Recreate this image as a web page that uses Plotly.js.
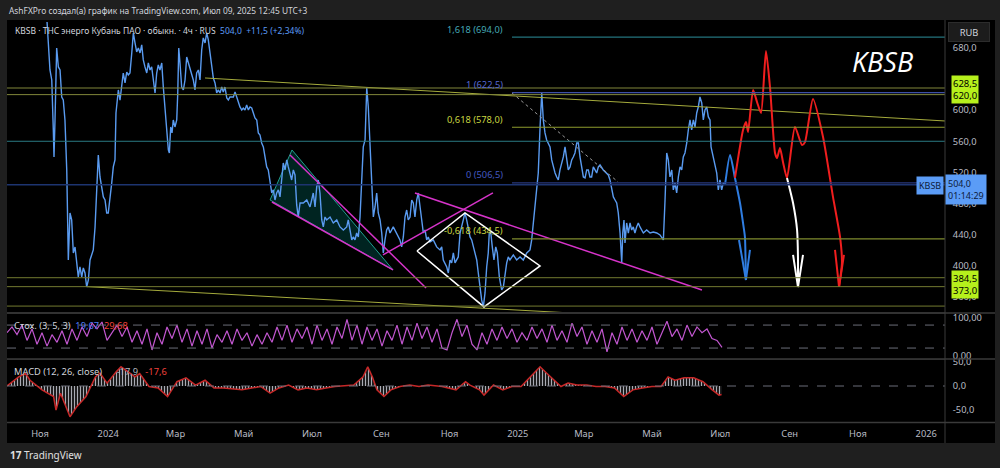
<!DOCTYPE html>
<html><head><meta charset="utf-8">
<script src="https://cdn.plot.ly/plotly-3.0.1.min.js"></script>
<style>html,body{margin:0;padding:0;background:#1f1f1f;}#chart{width:1000px;height:468px;}</style>
</head><body><div id="chart"></div>
<script>
// ---------- DATA (days since 2023-11-01, values in RUB) ----------
const priceDays = [-29.5,-8.9,4.5,6.3,8.9,10.5,11.9,12.5,13.4,14.9,16.4,17.9,19.4,20.8,22.3,23.9,25.3,26.8,28.3,29.8,31.3,32.8,34.2,35.7,37.3,38.7,40.2,41.7,43.2,44.7,47.6,49.2,50.7,52.1,53.6,56.6,58.1,59.6,61.0,62.6,64.1,65.5,67.0,67.9,69.1,70.0,71.5,73.0,74.4,76.0,77.5,78.9,80.4,82.0,83.4,84.9,86.4,87.9,89.4,90.9,92.3,93.8,95.4,96.8,98.3,99.8,101.3,102.8,104.3,105.7,107.2,108.8,110.2,111.7,113.2,114.7,115.6,116.8,118.0,119.1,120.6,122.2,123.1,124.0,125.1,126.6,128.1,129.6,131.1,132.5,134.1,137.0,138.5,140.0,141.5,143.0,144.5,145.9,147.5,149.0,150.4,151.9,153.5,154.9,156.4,157.9,159.3,160.9,162.4,163.8,165.3,166.9,168.3,169.8,172.8,174.3,175.8,177.2,178.7,180.3,181.7,183.2,184.7,186.2,187.7,189.2,190.6,192.1,193.7,195.1,196.6,198.1,199.6,201.1,202.6,204.0,205.6,207.1,208.5,210.0,211.5,213.0,214.5,216.0,217.4,219.0,220.5,221.9,223.4,224.9,226.4,227.9,229.4,230.8,232.4,235.3,238.4,241.3,242.8,244.2,245.8,247.3,248.7,250.2,251.8,253.2,254.7,256.2,259.2,262.1,265.2,268.1,271.1,274.1,275.5,277.0,278.6,280.0,281.5,283.0,284.5,286.0,287.5,288.9,290.5,292.0,293.4,294.9,296.4,297.9,299.4,300.9,302.3,303.9,305.4,306.8,308.3,309.8,311.3,312.8,315.7,318.8,321.7,323.2,324.7,326.2,327.7,329.1,330.7,332.2,333.6,335.1,336.7,338.1,339.6,341.1,342.6,344.1,345.6,347.0,348.5,351.5,354.5,357.5,359.0,360.4,363.5,364.9,366.4,367.9,369.4,370.9,372.4,373.8,375.4,378.3,379.8,381.3,382.8,384.3,385.8,387.2,388.8,390.3,391.7,393.2,394.7,396.2,397.7,399.2,400.6,401.5,402.8,404.2,405.7,407.3,408.7,410.5,412.6,414.1,415.6,417.1,418.5,420.0,423.0,426.0,429.0,431.9,435.0,437.9,439.4,440.9,442.4,443.9,445.3,446.9,448.4,449.8,451.3,452.8,455.8,457.3,458.7,460.3,461.8,463.2,464.7,467.7,469.2,470.7,472.1,473.7,475.2,476.6,478.1,479.7,481.1,482.6,484.1,485.6,487.1,488.6,490.0,491.5,493.0,494.5,496.0,497.5,499.0,500.5,503.4,506.5,507.9,509.4,510.9,512.4,513.9,515.4,516.8,518.4,519.9,520.8,521.9,522.8,524.3,525.8,527.3,528.8,530.2,531.7,533.2,534.7,536.2,539.2,542.2,545.2,548.1,551.2,554.1,557.1,558.6,560.1,561.5,563.0,564.6,566.0,567.5,569.0,570.5,572.0,573.5,574.9,576.4,578.0,579.4,580.9,582.4,583.9,585.4,586.9,588.3,589.8,591.4,592.8,594.3,595.8,597.3,598.8,599.7,601.7,603.2,604.8,606.2,607.7,609.2,610.7,612.2];
const priceValues = [765,755,729,713,651.7,638.8,574.5,539.8,587.4,680,655.6,651.7,617,613,587.4,523,407.3,467.8,458.8,416.3,424,398.3,385.5,398.3,385.5,397,390.6,372.6,381.6,407.3,420.2,449.8,493.5,542.4,514.1,488.4,484.5,467.8,467.8,484.5,506.4,527,536,596.4,617,626,613,629.8,647.8,635,649.1,645.3,647.8,673.6,699.3,686.4,674.9,680,673.6,683.9,664.6,655.6,647.8,660.7,651.7,655.6,635,622.1,647.8,658.1,651.7,660.7,629.8,600.3,574.5,548.8,545,578.4,570.7,587.4,578.4,587.4,622.1,680,660.7,629.8,626,638.8,668.4,660.7,655.6,638.8,626,647.8,651.7,638.8,677.4,692.9,686.4,699.3,690.3,673.6,651.7,641.4,635,622.1,626,622.1,629.8,623.4,629.8,615.7,613.1,617,617,623.4,617,609.3,604.1,600.3,602.8,600.3,606.7,600.3,604.1,602.8,596.4,590,587.4,570.7,568.1,557.8,552.7,539.8,527,523.1,506.4,493.5,497.4,484.5,493.5,497.4,488.4,514.1,532.1,523.1,536,527,519.2,510.2,523.1,516.7,478.1,462.6,480.6,480.6,484.5,475.5,484.5,493.5,475.5,501.2,510.2,493.5,458.8,449.8,462.6,458.8,462.6,454.9,458.8,449.8,445.9,449.8,458.8,445.9,433.1,436.9,433.1,442,436.9,462.6,514.1,552.7,561.7,628.6,604.1,557.8,523.1,462.6,475.5,493.5,467.8,458.8,442,416.3,433.1,445.9,449.8,442,449.8,442,433.1,424.1,436.9,462.6,471.6,458.8,462.6,484.5,480.6,462.6,484.5,493.5,475.5,454.9,442,445.9,433.1,436.9,430.5,433.1,424.1,420.2,424.1,407.3,398.3,390.6,407.3,403.5,416.3,403.5,407.3,411.2,442,458.8,467.8,458.8,449.8,436.9,433.1,424.1,416.3,407.3,390.6,372.6,355.9,346.9,364.9,398.3,416.3,442,443.3,424.1,407.3,424.1,416.3,385.5,368.7,372.6,390.6,403.5,411.2,407.3,413.8,407.3,411.2,407.3,416.3,420.2,433.1,454.9,480.6,497.4,519.2,578.4,622.1,587.4,570.7,561.7,552.7,536,527,519.2,514.1,510.2,523.1,539.8,552.7,536,523.1,527,536,539.8,545,557.8,557.8,539.8,527,514.1,512.8,523.1,523.1,514.1,514.1,527,523.1,519.2,527,529.5,523.1,519.2,516.7,510.2,501.2,488.4,484.5,480.6,467.8,442,403.5,442,458.8,429.2,454.9,442,454.9,445.9,449.8,442,449.8,454.9,449.8,442,445.9,442,443.3,442,439.5,433.1,484.5,544.9,536,514.1,523.1,497.4,506.4,493.5,514.1,527,523.1,539.8,545,557.8,574.5,587.4,574.5,587.4,578.4,596.4,604.1,617,609.3,587.4,600.3,604.1,591.3,587.4,552.7,539.8,527,519.2,497.4,510.2,497.4,506.4,504];

// Stochastic (sampled every stochStep days from stochStart)
const stochStart = -29.5, stochStep = 4.4685;
const stochValues = [60,75,55,80,40,70,30,60,25,55,35,65,30,70,40,75,50,85,70,88,40,60,80,50,75,35,65,30,70,15,60,30,75,45,80,35,70,25,65,30,70,20,55,35,65,30,70,40,60,25,55,30,60,35,75,40,80,35,70,45,75,30,80,40,70,30,75,45,95,40,80,30,75,40,70,25,65,40,80,30,75,40,85,45,75,35,70,20,15,60,95,50,80,30,15,60,30,70,40,75,45,70,35,60,40,75,45,70,35,80,40,65,35,85,50,75,30,65,35,70,10,60,30,75,40,70,35,65,40,75,30,60,90,50,70,40,80,50,75,60,70,45,40,22];

// MACD
const macdDays = [-29.5,-19.1,-12.9,-8.9,1.8,12.1,14.3,18.3,26.8,32.9,41.1,49.5,53.6,59.9,68.3,72.4,80.4,84.9,89.1,97.4,105.5,114.0,122.4,130.5,139.0,147.5,155.5,164.0,180.5,197.2,205.6,213.6,222.2,230.6,238.6,247.2,255.6,263.7,280.4,288.7,292.9,297.0,301.1,307.4,313.6,321.7,330.4,338.7,346.8,359.3,371.8,380.3,384.3,392.8,396.8,405.3,413.6,421.8,429.9,438.5,446.9,453.1,459.4,465.6,471.9,479.9,488.5,496.9,504.9,513.4,521.7,529.9,538.4,546.8,555.0,561.3,567.5,575.6,584.2,592.5,600.8,606.8,609.1];
const macdValues = [0,19,26,12,-8,-22,-50,-15,-64,-43,-22,19,27,6,30,40,27,19,26,-1,-4,-22,9,17,2,12,-4,-4,-8,-1,-15,-4,2,-8,-4,-8,-4,-1,2,19,40,19,-8,-22,-8,-1,2,-1,2,-1,-8,9,2,-8,-19,2,-8,-1,-1,19,40,26,12,-1,6,2,2,-1,-1,-4,-22,-8,-4,-1,-1,19,12,17,17,9,-8,-19,-17.6];

// Levels
const fibLevels = [694.0, 622.5, 578.0, 506.5, 434.5];
const fibLabels = ['1,618 (694,0)', '1 (622,5)', '0,618 (578,0)', '0 (506,5)', '-0,618 (434,5)'];
const fibStartDay = 421.8;
const horizLevels = [628.5, 620.0, 560.0, 384.5, 373.0, 348.0];
const lastPrice = 504.0;

// Drawings (day, price)
const wedgeDays = [205.6, 225.2, 315.5, 205.6], wedgeVals = [484.5, 548.8, 394.5, 484.5];
const wedgeUpDays = [223.4, 345.0], wedgeUpVals = [542.4, 371.3];
const wedgeLoDays = [207.3, 315.5], wedgeLoVals = [481.9, 394.5];
const diamondDays = [336.9, 379.8, 446.9, 396.8, 336.9], diamondVals = [418.9, 467.8, 399.6, 346.9, 418.9];
const magADays = [306.5, 404.8], magAVals = [413.8, 493.5];
const magBDays = [335.1, 591.6], magBVals = [493.5, 368.7];
const trendTopDays = [147.5, 808.8], trendTopVals = [641.4, 586.1];
const trendBotDays = [42.0, 473.7], trendBotVals = [373.0, 339.2];
const dotDays = [421.8, 516.6], dotVals = [622.1, 507.7];
const blueDays = [612.2, 616.7, 621.1, 625.6, 628.3, 630.0, 630.6, 630.9], blueVals = [503.8, 542.4, 512.8, 480.6, 454.9, 436.9, 403.5, 381.6];
const blueHeadDays = [624.7, 630.9, 634.5], blueHeadVals = [433.0, 381.6, 420.2];
const redDays = [621.1,628.3,631.0,632.8,637.3,640.8,644.4,648.8,652.4,656.9,658.7,661.3,664.0,667.6,674.7,681.0,683.7,690.8,699.8,708.7,715.0,716.7,714.1];
const redVals = [512.8,574.5,584.8,572.0,626.0,610.5,596.4,676.1,629.8,545.0,538.5,551.4,533.4,512.8,578.4,555.2,559.1,614.4,565.5,488.4,436.9,403.5,372.6];
const redHeadDays = [710.5, 714.1, 718.5], redHeadVals = [420.2, 372.6, 413.8];
const whiteDays = [667.6, 673.0, 676.6, 677.4, 677.4], whiteVals = [512.8, 480.6, 445.9, 411.2, 372.6];
const whiteHeadDays = [673.0, 677.4, 681.9], whiteHeadVals = [413.8, 372.6, 413.8];

const tickDates = ['2023-11-01','2024-01-01','2024-03-01','2024-05-01','2024-07-01','2024-09-01','2024-11-01','2025-01-01','2025-03-01','2025-05-01','2025-07-01','2025-09-01','2025-11-01','2026-01-01'];
const tickNames = ['Ноя','2024','Мар','Май','Июл','Сен','Ноя','2025','Мар','Май','Июл','Сен','Ноя','2026'];

// ---------- BUILD ----------
const ORIGIN = Date.UTC(2023, 10, 1), DAY = 86400000;
function dt(d){ return new Date(ORIGIN + d*DAY).toISOString().replace('T',' ').slice(0,19); }
const D = a => a.map(dt);
const FONT = 'Noto Sans, sans-serif';
const AX = '#b8bbc4';

function line(days, vals, color, width, extra){
  return Object.assign({x: D(days), y: vals, type:'scatter', mode:'lines', line:{color:color, width:width}, hoverinfo:'skip', showlegend:false}, extra||{});
}

const stochDays = stochValues.map((v,i)=>stochStart + i*stochStep);

const traces = [
  line(wedgeDays, wedgeVals, '#1f9e8e', 1, {fill:'toself', fillcolor:'rgba(0,128,118,0.28)'}),
  line(priceDays, priceValues, '#5a9bf0', 1.4),
  line(trendTopDays, trendTopVals, '#a5ab3c', 1),
  line(trendBotDays, trendBotVals, '#a5ab3c', 1),
  line(dotDays, dotVals, '#9a9a9a', 1, {line:{color:'#9a9a9a', width:1, dash:'dot'}}),
  line(wedgeUpDays, wedgeUpVals, '#d633c9', 1.5),
  line(wedgeLoDays, wedgeLoVals, '#d633c9', 1.5),
  line(magADays, magAVals, '#d633c9', 1.5),
  line(magBDays, magBVals, '#d633c9', 1.5),
  line(diamondDays, diamondVals, '#ffffff', 1.5),
  line(blueDays, blueVals, '#2f7de1', 2, {line:{color:'#2f7de1', width:2, shape:'spline', smoothing:0.6}}),
  line(blueHeadDays, blueHeadVals, '#2f7de1', 2),
  line(redDays, redVals, '#f01e1e', 2, {line:{color:'#f01e1e', width:2, shape:'spline', smoothing:0.6}}),
  line(redHeadDays, redHeadVals, '#f01e1e', 2),
  line(whiteDays, whiteVals, '#ffffff', 2, {line:{color:'#ffffff', width:2, shape:'spline', smoothing:0.6}}),
  line(whiteHeadDays, whiteHeadVals, '#ffffff', 2),
  line(stochDays, stochValues, '#c257d0', 1.2, {yaxis:'y2'}),
  line(macdDays, macdValues, '#c62828', 1.5, {yaxis:'y3', fill:'tozeroy', fillcolor:'rgba(0,0,0,0)',
    fillpattern:{shape:'|', size:3, solidity:0.45, fgcolor:'#a9abb3', bgcolor:'rgba(0,0,0,0)'}})
];

const xp = px => (px - 7) / 938;
const yp = py => (422 - py) / 400;

const shapes = [];
shapes.push({type:'rect', xref:'paper', yref:'paper', x0:1, x1:xp(995), y0:yp(443), y1:yp(20), fillcolor:'#000', line:{width:0}, layer:'below'});
shapes.push({type:'rect', xref:'paper', yref:'paper', x0:0, x1:xp(995), y0:yp(443), y1:0, fillcolor:'#000', line:{width:0}, layer:'below'});
shapes.push({type:'rect', xref:'paper', yref:'paper', x0:0, x1:xp(995), y0:1, y1:yp(20), fillcolor:'#000', line:{width:0}, layer:'below'});
const hColors = ['#80863a','#80863a','#2a7a83','#737a30','#737a30','#737a30'];
horizLevels.forEach((v,i)=>shapes.push({type:'line', xref:'paper', yref:'y', x0:0, x1:1, y0:v, y1:v, line:{color:hColors[i], width:1}}));
shapes.push({type:'line', xref:'paper', yref:'y', x0:0, x1:1, y0:lastPrice, y1:lastPrice, line:{color:'#1d3470', width:1.5}});
const fibColors = ['#23737c','#3d4fa6','#8e9b2e','#28397e','#7f8b2e'];
fibLevels.forEach((v,i)=>shapes.push({type:'line', xref:'x', yref:'y', x0:dt(fibStartDay), x1:dt(830), y0:v, y1:v, line:{color:fibColors[i], width:1.2}}));
[80,20].forEach(v=>shapes.push({type:'line', xref:'paper', yref:'y2', x0:0, x1:1, y0:v, y1:v, line:{color:'#6a6d78', width:1, dash:'dash'}}));
shapes.push({type:'line', xref:'paper', yref:'y3', x0:0, x1:1, y0:0, y1:0, line:{color:'#6a6d78', width:1, dash:'dash'}});
[313, 359, 422.5].forEach(py=>shapes.push({type:'line', xref:'paper', yref:'paper', x0:0, x1:xp(995), y0:yp(py), y1:yp(py), line:{color:'#3a3a3a', width:1.5}}));
shapes.push({type:'line', xref:'paper', yref:'paper', x0:1, x1:1, y0:yp(443), y1:yp(20), line:{color:'#3a3a3a', width:1}});

const fibLabelColors = ['#44a8b6','#5668d2','#c9d640','#4359c2','#c9d640'];
const ann = [];
ann.push({xref:'paper', yref:'paper', x:0, y:yp(11), xanchor:'left', yanchor:'middle', showarrow:false,
  text:'AshFXPro создал(а) график на TradingView.com, Июл 09, 2025 12:45 UTC+3', font:{family:FONT, size:8.4, color:'#d1d4dc'}});
ann.push({xref:'paper', yref:'paper', x:xp(13), y:yp(31), xanchor:'left', yanchor:'middle', showarrow:false,
  text:'KBSB · ТНС энерго Кубань ПАО · обыкн. · 4ч · RUS\u00a0\u00a0<span style="color:#5b9cf6">504,0\u00a0\u00a0+11,5 (+2,34%)</span>', font:{family:FONT, size:8.5, color:'#d1d4dc'}});
ann.push({xref:'paper', yref:'paper', x:xp(12), y:yp(325), xanchor:'left', yanchor:'middle', showarrow:false,
  text:'Стох. (3, 5, 3)\u00a0\u00a0<span style="color:#4f7cf5">19,67</span>\u00a0\u00a0<span style="color:#f0403c">29,68</span>', font:{family:FONT, size:9.3, color:'#d1d4dc'}});
ann.push({xref:'paper', yref:'paper', x:xp(12), y:yp(371), xanchor:'left', yanchor:'middle', showarrow:false,
  text:'MACD (12, 26, close)\u00a0\u00a0\u00a0\u00a0\u00a0\u00a0<span style="color:#b2b5be">-17,9</span>\u00a0\u00a0\u00a0<span style="color:#f0403c">-17,6</span>', font:{family:FONT, size:9.3, color:'#d1d4dc'}});
fibLevels.forEach((v,i)=>ann.push({xref:'x', yref:'y', x:dt(415.6), y:v, xanchor:'right', yanchor:'middle', yshift:8, showarrow:false,
  text:fibLabels[i], font:{family:FONT, size:9.3, color:fibLabelColors[i]}}));
ann.push({xref:'paper', yref:'paper', x:xp(882), y:yp(62), xanchor:'center', yanchor:'middle', showarrow:false,
  text:'KBSB', font:{family:'Open Sans, sans-serif', size:27, color:'#ffffff', style:'italic'}});
ann.push({xref:'paper', yref:'paper', x:xp(969), y:yp(32), xanchor:'center', yanchor:'middle', showarrow:false,
  text:'RUB', width:36, height:14, font:{family:FONT, size:9.3, color:'#d1d4dc'}, bgcolor:'#1c1c1c', bordercolor:'#2c2c2c', borderwidth:1, borderpad:2});
ann.push({xref:'paper', yref:'y', x:xp(951), y:(628.5+620)/2, yshift:2, xanchor:'left', yanchor:'middle', showarrow:false,
  text:'628,5<br>620,0', font:{family:FONT, size:9.5, color:'#000'}, bgcolor:'#b6f01c', borderpad:1});
ann.push({xref:'paper', yref:'y', x:xp(951), y:(384.5+373)/2, yshift:-2, xanchor:'left', yanchor:'middle', showarrow:false,
  text:'384,5<br>373,0', font:{family:FONT, size:9.5, color:'#000'}, bgcolor:'#b6f01c', borderpad:1});
ann.push({xref:'paper', yref:'y', x:xp(944), y:lastPrice, yshift:-1, xanchor:'right', yanchor:'middle', showarrow:false,
  text:'KBSB', font:{family:FONT, size:9, color:'#0d1b3a'}, bgcolor:'#5b9cf6', borderpad:2});
ann.push({xref:'paper', yref:'y', x:1, y:lastPrice, yshift:-5, xanchor:'left', yanchor:'middle', showarrow:false,
  text:'504,0\u00a0\u00a0\u00a0\u00a0<br>01:14:29', align:'left', font:{family:FONT, size:9, color:'#0d1b3a'}, bgcolor:'#5b9cf6', borderpad:2});
ann.push({xref:'paper', yref:'paper', x:xp(8), y:yp(455), xanchor:'left', yanchor:'middle', showarrow:false,
  text:'<b>17</b> TradingView', font:{family:FONT, size:10, color:'#e0e0e0'}});

const layout = {
  width:1000, height:468, margin:{l:7, r:55, t:22, b:46},
  paper_bgcolor:'#1f1f1f', plot_bgcolor:'#000', showlegend:false,
  xaxis:{type:'date', anchor:'y3', range:[dt(-29.5), dt(808.8)], tickvals:tickDates, ticktext:tickNames,
    showgrid:false, zeroline:false, showline:false, ticks:'outside', ticklen:3, tickcolor:'rgba(0,0,0,0)',
    tickfont:{family:FONT, size:9.3, color:AX}},
  yaxis:{domain:[yp(312), 1], range:[340.4, 713.4], side:'right', anchor:'x',
    tickvals:[680,600,560,520,480,440,400,360], ticktext:['680,0','600,0','560,0','520,0','480,0','440,0','400,0','360,0'],
    showgrid:false, zeroline:false, ticks:'outside', ticklen:5, tickcolor:'rgba(0,0,0,0)', tickfont:{family:FONT, size:9.3, color:AX}},
  yaxis2:{domain:[yp(359), yp(314)], range:[-8.6, 108.9], side:'right', anchor:'x',
    tickvals:[100,0], ticktext:['100,00','0,00'], showgrid:false, zeroline:false, ticks:'outside', ticklen:5, tickcolor:'rgba(0,0,0,0)', tickfont:{family:FONT, size:9.3, color:AX}},
  yaxis3:{domain:[0, yp(360)], range:[-75, 54.2], side:'right', anchor:'x',
    tickvals:[50,0,-50], ticktext:['50,0','0,0','-50,0'], showgrid:false, zeroline:false, ticks:'outside', ticklen:5, tickcolor:'rgba(0,0,0,0)', tickfont:{family:FONT, size:9.3, color:AX}},
  shapes:shapes, annotations:ann
};

Plotly.newPlot('chart', traces, layout, {displayModeBar:false, staticPlot:true});
</script>
</body></html>
